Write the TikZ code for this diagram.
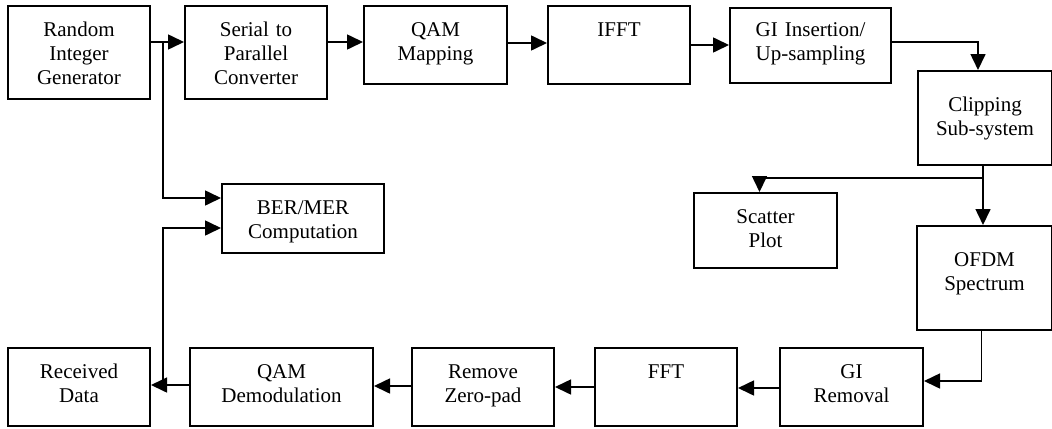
\documentclass[tikz,border=0pt]{standalone}
\usepackage{fontspec}
\setmainfont{Liberation Serif}
\usetikzlibrary{arrows.meta}
\tikzset{
  blk/.style = {draw=black, line width=1pt, align=center, inner sep=0pt,
    anchor=north west, font=\fontsize{10.5}{12}\selectfont,
    text height=15pt},% bloc, texte en haut
  blk_t/.style = {blk, text height=20pt},% bloc haut, texte plus bas
  arr/.style = {-{Triangle[length=8pt,width=7.5pt]}, line width=0.8pt}% fleche
}

\begin{document}
\begin{tikzpicture}[x=0.5pt,y=-0.5pt]
\useasboundingbox (0,0) rectangle (1052,428);
% emetteur
\node [blk, text width=71pt, text depth=31.5pt] (rig) at (7,5) {Random\\Integer\\Generator};
\node [blk, text width=71pt, text depth=31.5pt] (s2p) at (184,5) {Serial to\\Parallel\\Converter};
\node [blk, text width=71.5pt, text depth=24pt] (qam) at (363,5) {QAM\\Mapping};
\node [blk, text width=71pt, text depth=24pt] (ifft) at (547,5) {IFFT};
\node [blk, text width=80.5pt, text height=14pt, text depth=23.5pt] (gii) at (729,7) {GI Insertion/\\Up-sampling};
\node [blk_t, text width=67pt, text depth=27pt] (clip) at (917,70) {Clipping\\Sub-system};
\node [blk, text width=71.5pt, text depth=22.5pt] (scat) at (693,192) {Scatter\\Plot};
\node [blk_t, text width=67.5pt, text depth=32pt] (ofdm) at (916,225) {OFDM\\Spectrum};
\node [blk, text width=81pt, text depth=19.5pt] (ber) at (221,183) {BER/MER\\Computation};
% recepteur
\node [blk, text width=71pt, text depth=24pt] (rcv) at (7,347) {Received\\Data};
\node [blk, text width=91.5pt, text depth=24pt] (qdm) at (189,347) {QAM\\Demodulation};
\node [blk, text width=71pt, text depth=24pt] (rzp) at (411,347) {Remove\\Zero-pad};
\node [blk, text width=71pt, text depth=24pt] (fft) at (594,347) {FFT};
\node [blk, text width=71.5pt, text depth=24pt] (gir) at (779,347) {GI\\Removal};

\coordinate (tap) at (163,42);
\coordinate (ret) at (163,385);

\draw[arr] ([yshift=-18.5pt]rig.north east) -- ([yshift=-18.5pt]s2p.north west);
\draw[arr] (tap) |- ([yshift=-7.5pt]ber.north west);
\draw[arr] ([yshift=-18.5pt]s2p.north east) -- ([yshift=-18.5pt]qam.north west);
\draw[arr] ([yshift=-19pt]qam.north east) -- ([yshift=-19pt]ifft.north west);
\draw[arr] ([yshift=-20pt]ifft.north east) -- ([yshift=-19pt]gii.north west);
\draw[arr] ([yshift=-17.5pt]gii.north east) -| ([xshift=-3.5pt]clip.north);
\draw[arr] ([xshift=-1pt]clip.south) -- ([xshift=-1pt]clip.south |- ofdm.north);
\draw[arr] ([xshift=-1pt,yshift=-6pt]clip.south) -| ([xshift=-3pt]scat.north);
\draw[arr] ([xshift=-1.5pt]ofdm.south) |- ([yshift=-17pt]gir.north east);
\draw[arr] ([yshift=-20.5pt]gir.north west) -- ([yshift=-20.5pt]fft.north east);
\draw[arr] ([yshift=-20pt]fft.north west) -- ([yshift=-20pt]rzp.north east);
\draw[arr] ([yshift=-19.5pt]rzp.north west) -- ([yshift=-19.5pt]qdm.north east);
\draw[arr] ([yshift=-19pt]qdm.north west) -- ([yshift=-19pt]rcv.north east);
\draw[arr] (ret) |- ([yshift=-22.5pt]ber.north west);
\end{tikzpicture}
\end{document}
